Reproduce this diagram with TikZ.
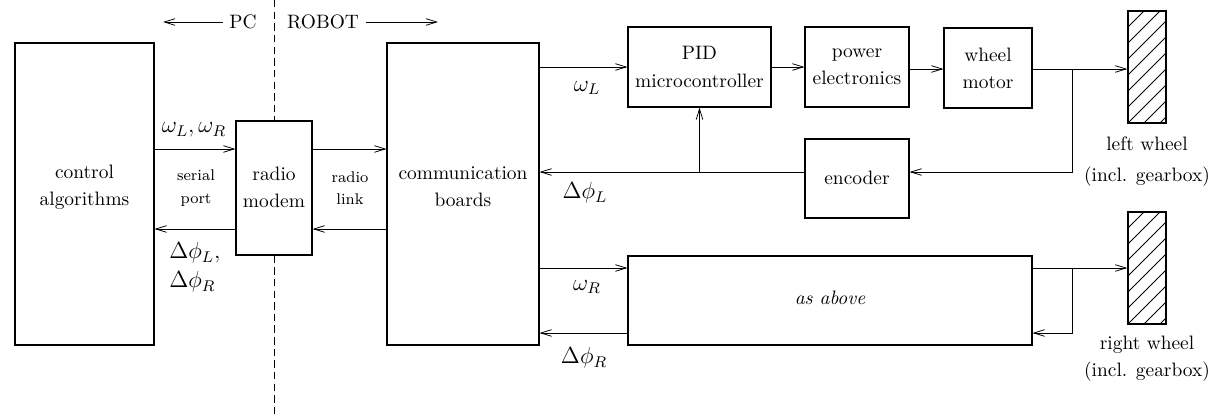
\documentclass[tikz,border=0pt]{standalone}
\usetikzlibrary{arrows.meta,fit}
\begin{document}
\begin{tikzpicture}[x=0.515pt,y=-0.515pt,
  box/.style={draw,line width=0.6pt,inner sep=0pt},
  conn/.style={line width=0.4pt,-{Straight Barb[length=5.5pt,width=3.4pt]}},
  plainline/.style={line width=0.4pt},
  divider/.style={line width=0.5pt,dash pattern=on 3.8pt off 2.2pt},
  lab/.style={font=\large},
  txt/.style={align=center,inner sep=1pt},
  small/.style={font=\footnotesize,align=center,inner sep=1pt}]
\useasboundingbox (0,0) rectangle (1209,414);

% boxes
\node[box,fit={(15,43)(154,345)}] (ca) {};
\node[txt] (cat) at (84.5,187) {control\\[2pt]algorithms};
\node[box,fill=white,fit={(236,121)(312,255)}] (rm) {};
\node[txt] (rmt) at (274,187) {radio\\[2pt]modem};
\node[box,fit={(387,43)(539,345)}] (cb) {};
\node[txt] (cbt) at (463,187) {communication\\[2pt]boards};
\node[box,fit={(628,27)(771,107)}] (pid) {};
\node[txt] (pidt) at (699.5,67) {PID\\[2pt]microcontroller};
\node[box,fit={(805,27)(909,107)}] (pe) {};
\node[txt] (pet) at (857,67) {power\\[2pt]electronics};
\node[box,fit={(944,28)(1032,108)}] (wm) {};
\node[txt] (wmt) at (988,68) {wheel\\[2pt]motor};
\node[box,fit={(805,139)(909,218)}] (enc) {};
\node[txt] (enct) at (857,178) {encoder};
\node[box,fit={(628,256)(1032,345)}] (aa) {};
\node[txt] (aat) at (830,298) {\itshape as above};

% wheels
\begin{scope}
  \clip (1128,11) rectangle (1166,123);
  \foreach \c in {0,16,...,176} \draw[plainline] (1128,11+\c) -- (1166,\c-27);
\end{scope}
\node[draw,line width=0.8pt,inner sep=0pt,fit={(1128,11)(1166,123)}] (lw) {};
\begin{scope}
  \clip (1128,212) rectangle (1166,324);
  \foreach \c in {0,16,...,176} \draw[plainline] (1128,212+\c) -- (1166,212+\c-38);
\end{scope}
\node[draw,line width=0.8pt,inner sep=0pt,fit={(1128,212)(1166,324)}] (rw) {};
\node[txt] (lwl) at (1147,162) {left wheel\\[4pt](incl. gearbox)};
\node[txt] (rwl) at (1147,359) {right wheel\\[2pt](incl. gearbox)};

% PC / ROBOT
\node (pc) at (243,22) {PC};
\node (robot) at (323,22) {ROBOT};
\coordinate (pca) at (163,22);
\coordinate (rba) at (438,22);
\draw[conn] (pc.west) -- (pca);
\draw[conn] (robot.east) -- (rba);
\coordinate (dtop) at (274,0);
\coordinate (dbot) at (274,414);
\draw[divider] (dtop) -- (rm.north);
\draw[divider] (rm.south) -- (dbot);

% left side connectors
\draw[conn] (ca.east |- 0,149) -- (rm.west |- 0,149);
\draw[conn] (rm.east |- 0,149) -- (cb.west |- 0,149);
\draw[conn] (rm.west |- 0,229) -- (ca.east |- 0,229);
\draw[conn] (cb.west |- 0,229) -- (rm.east |- 0,229);
\node[small] (sp) at (196,188) {serial\\[2pt]port};
\node[small] (rl) at (350,188) {radio\\[2pt]link};
\node[lab] (wlr) at (194,130) {$\omega_L,\omega_R$};
\node[lab,anchor=west,inner sep=0pt] (dl) at (169,253) {$\Delta\phi_L,$};
\node[lab,anchor=west,inner sep=0pt] (dr) at (169,282) {$\Delta\phi_R$};

% left wheel loop
\draw[conn] (cb.east |- 0,67) -- (pid.west |- 0,67);
\draw[conn] (pid.east |- 0,67) -- (pe.west |- 0,67);
\draw[conn] (pe.east |- 0,69) -- (wm.west |- 0,69);
\draw[conn] (wm.east |- 0,69) -- (lw.west |- 0,69);
\coordinate (jl) at (1072,69);
\coordinate (jl2) at (1072,172);
\draw[conn] (jl) -- (jl2) -- (enc.east |- jl2);
\draw[conn] (enc.west |- 0,172) -- (cb.east |- 0,172);
\coordinate (jp) at (699.5,172);
\draw[conn] (jp) -- (pid.south);
\node[lab] (wl) at (587,88) {$\omega_L$};
\node[lab] (dphl) at (585,193) {$\Delta\phi_L$};

% right wheel loop
\draw[conn] (cb.east |- 0,268) -- (aa.west |- 0,268);
\draw[conn] (aa.west |- 0,333) -- (cb.east |- 0,333);
\draw[conn] (aa.east |- 0,268) -- (rw.west |- 0,268);
\coordinate (jr) at (1072,268);
\coordinate (jr2) at (1072,333);
\draw[conn] (jr) -- (jr2) -- (aa.east |- jr2);
\node[lab] (wr) at (587,287) {$\omega_R$};
\node[lab] (dphr) at (584,358) {$\Delta\phi_R$};
\end{tikzpicture}
\end{document}
